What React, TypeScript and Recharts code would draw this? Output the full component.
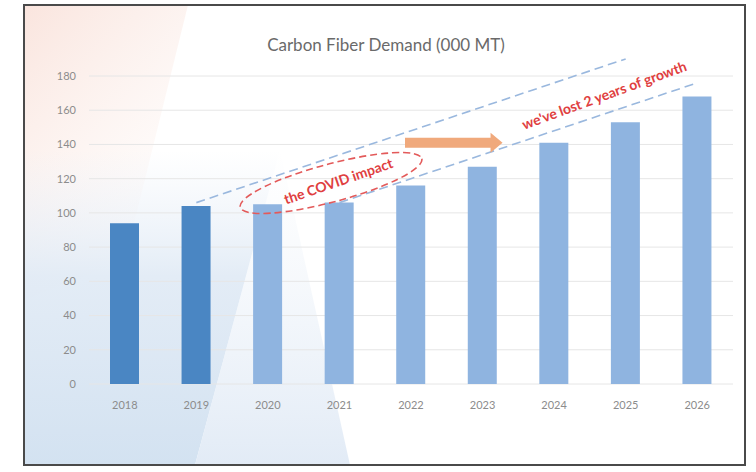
import { Bar, BarChart, CartesianGrid, Cell, ReferenceLine, XAxis, YAxis } from "recharts";

const years = ["2018", "2019", "2020", "2021", "2022", "2023", "2024", "2025", "2026"];
const demand = [94, 104, 105, 106, 116, 127, 141, 153, 168];
const yTicks = [0, 20, 40, 60, 80, 100, 120, 140, 160, 180];
// the two actual years are darker than the forecast
const actualYears = ["2018", "2019"];

// trend lines: pre-covid path vs. the same path shifted 2 years
const preCovidTrend = [{ x: "2019", y: 106 }, { x: "2025", y: 190 }];
const postCovidTrend = [{ x: "2021", y: 106 }, { x: "2026", y: 176 }];
const shiftArrow = [{ x: "2022", y: 141 }, { x: "2023", y: 141 }];

const data = years.map((year, i) => ({ year, demand: demand[i] }));

const font = "Lato, 'Open Sans', sans-serif";

const Arrow = (props: any) => {
  const { x1, y1, x2 } = props;
  const left = x1 - 6;
  const right = x2 + 20;
  const h = 5;
  return (
    <path
      d={`M${left},${y1 - h} L${right - 12},${y1 - h} L${right - 12},${y1 - 10} L${right},${y1} L${right - 12},${y1 + 10} L${right - 12},${y1 + h} L${left},${y1 + h} Z`}
      fill="#f0a97c"
    />
  );
};

const Background = () => (
  <svg width={756} height={472} style={{ position: "absolute", left: 0, top: 0 }}>
    <defs>
      <linearGradient id="pink" x1="0" y1="0" x2="0.6" y2="1">
        <stop offset="0%" stopColor="#f9e0d8" stopOpacity={0.85} />
        <stop offset="100%" stopColor="#fbeee9" stopOpacity={0} />
      </linearGradient>
      <linearGradient id="blue" x1="0" y1="1" x2="0" y2="0">
        <stop offset="0%" stopColor="#d3e2f1" stopOpacity={1} />
        <stop offset="60%" stopColor="#e0eaf5" stopOpacity={0.9} />
        <stop offset="100%" stopColor="#e8eff8" stopOpacity={0} />
      </linearGradient>
      <linearGradient id="blue2" x1="0" y1="1" x2="0" y2="0">
        <stop offset="0%" stopColor="#e2ebf6" stopOpacity={1} />
        <stop offset="100%" stopColor="#eef3f9" stopOpacity={0} />
      </linearGradient>
    </defs>
    <rect x={24} y={5} width={721} height={460} fill="#ffffff" />
    <polygon points="24,5 188,5 125,260 24,300" fill="url(#pink)" />
    <polygon points="24,150 280,150 195,465 24,465" fill="url(#blue)" />
    <polygon points="195,465 280,150 350,465" fill="url(#blue2)" />
    <rect x={24} y={5} width={721} height={460} fill="none" stroke="#4a4a4a" strokeWidth={2} />
  </svg>
);

const Overlay = () => (
  <svg width={756} height={472} style={{ position: "absolute", left: 0, top: 0, pointerEvents: "none" }}>
    <text x={386} y={51} textAnchor="middle" fontFamily={font} fontSize={17} fill="#6a6a6a">
      Carbon Fiber Demand (000 MT)
    </text>
    <ellipse
      cx={331}
      cy={183}
      rx={94}
      ry={19}
      transform="rotate(-15 331 183)"
      fill="none"
      stroke="#e35a5a"
      strokeWidth={1.6}
      strokeDasharray="7 4"
    />
    <text
      x={340}
      y={186}
      textAnchor="middle"
      transform="rotate(-19 340 186)"
      fontFamily={font}
      fontSize={14}
      fontWeight="bold"
      fill="#e0403f"
    >
      the COVID impact
    </text>
    <text
      x={606}
      y={100}
      textAnchor="middle"
      transform="rotate(-20 606 100)"
      fontFamily={font}
      fontSize={14}
      fontWeight="bold"
      fill="#e0403f"
    >
      we've lost 2 years of growth
    </text>
  </svg>
);

const App = () => {
  return (
    <div style={{ position: "absolute", left: 0, top: 0, width: 756, height: 472 }}>
      <Background />
      <div style={{ position: "absolute", left: 0, top: 0 }}>
        <BarChart
          width={756}
          height={472}
          data={data}
          margin={{ top: 76, right: 23, left: 29, bottom: 58 }}
        >
          <CartesianGrid vertical={false} stroke="#e6e6e6" />
          <XAxis
            dataKey="year"
            axisLine={false}
            tickLine={false}
            tickSize={0}
            tickMargin={17}
            height={30}
            tick={{ fill: "#8c8c8c", fontSize: 11, fontFamily: font }}
          />
          <YAxis
            domain={[0, 180]}
            ticks={yTicks}
            axisLine={false}
            tickLine={false}
            tickSize={0}
            tickMargin={13}
            width={60}
            tick={{ fill: "#8c8c8c", fontSize: 11, fontFamily: font }}
          />
          <Bar dataKey="demand" barSize={29} isAnimationActive={false}>
            {data.map((d) => (
              <Cell key={d.year} fill={actualYears.includes(d.year) ? "#4a86c3" : "#8fb4e0"} />
            ))}
          </Bar>
          <ReferenceLine
            segment={preCovidTrend}
            ifOverflow="visible"
            stroke="#9ab8de"
            strokeWidth={1.6}
            strokeDasharray="9 5"
          />
          <ReferenceLine
            segment={postCovidTrend}
            ifOverflow="visible"
            stroke="#9ab8de"
            strokeWidth={1.6}
            strokeDasharray="9 5"
          />
          <ReferenceLine segment={shiftArrow} ifOverflow="visible" shape={<Arrow />} />
        </BarChart>
      </div>
      <Overlay />
    </div>
  );
};

export default App;
